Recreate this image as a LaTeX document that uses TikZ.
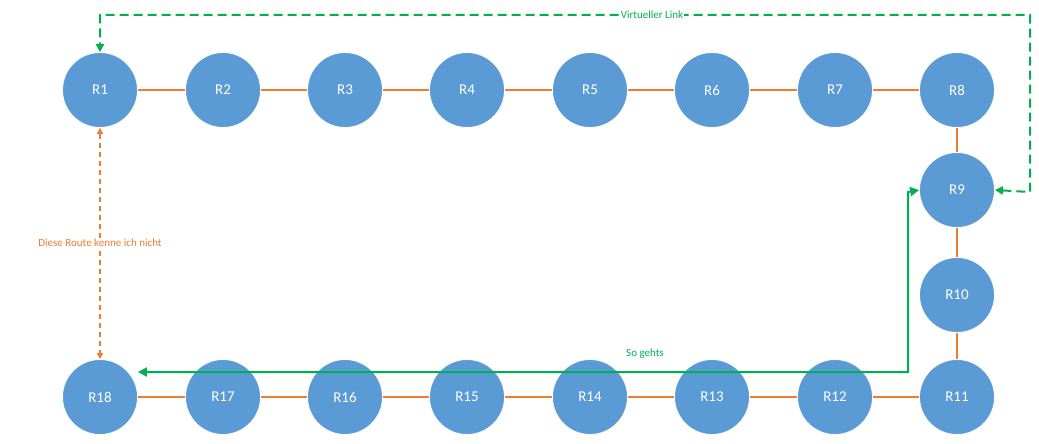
\documentclass[tikz,border=0pt]{standalone}
\usepackage{fontspec}
\setmainfont{Carlito}
\usetikzlibrary{arrows.meta}
\definecolor{nodeblue}{HTML}{5B9BD5}
\definecolor{linkor}{HTML}{ED7D31}
\definecolor{grn}{HTML}{00B050}
\begin{document}
\begin{tikzpicture}[x=1pt,y=-1pt,
  r/.style={circle,fill=nodeblue,draw=white,line width=0.8pt,minimum size=75pt,inner sep=0pt,text=white,font=\fontsize{15}{15}\selectfont},
  lk/.style={linkor,line width=1.5pt},
  lbl/.style={fill=white,inner sep=1pt,font=\fontsize{11}{11}\selectfont}]
\useasboundingbox (0,0) rectangle (1039,444);
\foreach \n/\x/\y in {1/100/90,2/223/90,3/345/90,4/467/90,5/590/90,6/712/90,7/835/90,8/957/90,
 9/957/190,10/957/295,11/957/397,12/835/397,13/712/397,14/590/397,15/467/397,16/345/397,17/223/397,18/100/397}
 {\coordinate (c\n) at (\x,\y);}
\foreach \a/\b in {1/2,2/3,3/4,4/5,5/6,6/7,7/8,8/9,9/10,10/11,11/12,12/13,13/14,14/15,15/16,16/17,17/18}
 {\draw[lk] (c\a) -- (c\b);}
\foreach \n in {1,...,18}{\node[r] (R\n) at (c\n) {R\n};}
% virtual link
\coordinate (v1) at (1030,192);
\coordinate (v2) at (1030,15);
\coordinate (v3) at (100,15);
\draw[grn,line width=2pt,dash pattern=on 9pt off 5pt,{Triangle[length=8pt,width=8pt]}-{Triangle[length=8pt,width=8pt]}]
 (R9.east) -- (v1) -- (v2) -- (v3) -- (R1.north);
\node[lbl,text=grn] (vl) at (652,15) {Virtueller Link};
% unknown route
\draw[linkor,line width=1.2pt,dash pattern=on 5pt off 4pt,{Triangle[length=6pt,width=6pt]}-{Triangle[length=6pt,width=6pt]}]
 (R1.south) -- (R18.north);
\node[lbl,text=linkor] (dr) at (100,243) {Diese Route kenne ich nicht};
% so gehts
\coordinate (s1) at (908,372);
\coordinate (s2) at (908,192);
\draw[grn,line width=2pt,{Triangle[length=9pt,width=9pt]}-{Triangle[length=9pt,width=9pt]}]
 (R18.east |- s1) -- (s1) -- (s2) -- (R9.west);
\node[text=grn,font=\fontsize{11}{11}\selectfont] (sg) at (645,354) {So gehts};
\end{tikzpicture}
\end{document}
